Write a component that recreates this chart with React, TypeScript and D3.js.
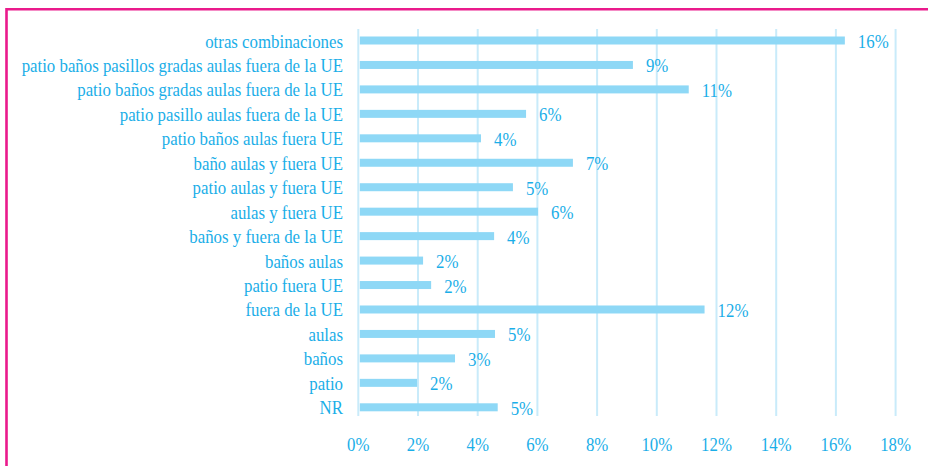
import React from "react";
import * as d3 from "d3";

const categories = [
  "otras combinaciones",
  "patio baños pasillos gradas aulas fuera de la UE",
  "patio baños gradas aulas fuera de la UE",
  "patio pasillo aulas fuera de la UE",
  "patio baños aulas fuera UE",
  "baño aulas y fuera UE",
  "patio aulas y fuera UE",
  "aulas y fuera UE",
  "baños y fuera de la UE",
  "baños aulas",
  "patio fuera UE",
  "fuera de la UE",
  "aulas",
  "baños",
  "patio",
  "NR",
];
const values = [16.3, 9.2, 11.07, 5.62, 4.11, 7.19, 5.18, 6.02, 4.55, 2.17, 2.44, 11.6, 4.58, 3.24, 1.97, 4.67];
const valueLabels = ["16%", "9%", "11%", "6%", "4%", "7%", "5%", "6%", "4%", "2%", "2%", "12%", "5%", "3%", "2%", "5%"];
const ticks = [0, 2, 4, 6, 8, 10, 12, 14, 16, 18];

const W = 928;
const H = 466;
const TEXT = "#1aaee8";
const BAR = "#8ed8f6";
const GRID = "#c9ebfa";
const BORDER = "#ea1a8c";
const FONT = "'Liberation Serif', 'DejaVu Serif', serif";
const SX = 0.925;

export default function App() {
  const x = d3.scaleLinear().domain([0, 18]).range([358.3, 895.6]);
  const y = d3
    .scalePoint<string>()
    .domain(categories)
    .range([40.5, 407.3]);
  const barH = 8;

  return (
    <svg
      width={W}
      height={H}
      style={{ position: "absolute", left: 0, top: 0, background: "#fff" }}
    >
      <rect x={0} y={0} width={W} height={H} fill="#fff" />
      {/* border */}
      <path d={`M6.5,${H + 5} V9.2 H${W + 5}`} fill="none" stroke={BORDER} strokeWidth={2.6} />
      {/* grid */}
      {ticks.map((t) => (
        <line key={t} x1={x(t)} x2={x(t)} y1={29} y2={416} stroke={GRID} strokeWidth={2} />
      ))}
      {/* bars */}
      {categories.map((c, i) => (
        <rect
          key={c}
          x={x(0) + 1.5}
          y={(y(c) as number) - barH / 2}
          width={x(values[i]) - x(0) - 1.5}
          height={barH}
          fill={BAR}
        />
      ))}
      {/* labels */}
      <g fontFamily={FONT} fontSize={18.2} fill={TEXT}>
        {categories.map((c) => (
          <text
            key={c}
            transform={`translate(343,${(y(c) as number) + 7}) scale(${SX},1)`}
            textAnchor="end"
          >
            {c}
          </text>
        ))}
        {categories.map((c, i) => (
          <text
            key={c + "v"}
            transform={`translate(${x(values[i]) + 13},${(y(c) as number) + 7.5}) scale(${SX},1)`}
          >
            {valueLabels[i]}
          </text>
        ))}
        {ticks.map((t) => (
          <text
            key={t}
            transform={`translate(${x(t)},451) scale(${SX},1)`}
            textAnchor="middle"
          >
            {t + "%"}
          </text>
        ))}
      </g>
    </svg>
  );
}
